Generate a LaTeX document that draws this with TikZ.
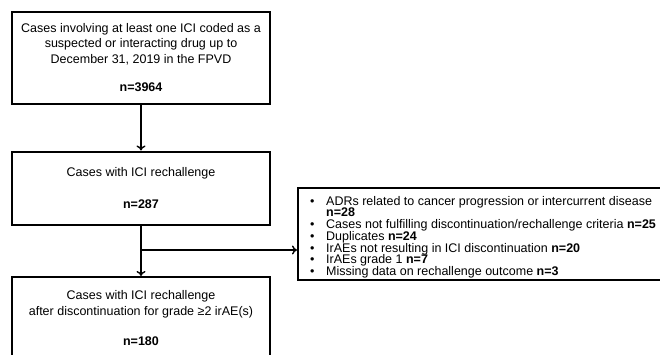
\documentclass[tikz,border=0pt]{standalone}
\usepackage{fontspec}
\setmainfont{Liberation Sans}
\usetikzlibrary{arrows.meta,calc}
\newcommand{\bul}{\makebox[16pt][l]{•}}
\newcommand{\tightlines}{\lineskiplimit -30pt\relax}
\tikzset{
  flowbox/.style={draw, line width=2pt, inner sep=0pt, align=center,
    font=\fontsize{12.5}{15.5}\selectfont},
  arr/.style={line width=2pt, -{To[length=5pt,width=9pt,line width=1.4pt]}},
  bullettext/.style={anchor=north west, inner sep=0pt, align=left,
    font=\fontsize{12.5}{11.7}\selectfont\tightlines}
}
\begin{document}
\begin{tikzpicture}[x=1pt,y=-1pt]
\useasboundingbox (0,0) rectangle (660,354);
\clip (0,0) rectangle (660,354);
\node[flowbox, minimum width=258pt, minimum height=92pt] (b1) at (141,57.5)
  {Cases involving at least one ICI coded as a\\suspected or interacting drug up to\\December 31, 2019 in the FPVD\\[12.5pt]\textbf{n=3964}};
\node[flowbox, minimum width=258pt, minimum height=73pt] (b2) at (141,188)
  {Cases with ICI rechallenge\\[16.5pt]\textbf{n=287}};
\node[flowbox, minimum width=258pt, minimum height=82pt] (b3) at (141,318)
  {Cases with ICI rechallenge\\after discontinuation for grade ≥2 irAE(s)\\[14.5pt]\textbf{n=180}};
\node[draw, line width=2pt, inner sep=0pt, minimum width=370pt, minimum height=92pt] (rb) at (483,234) {};
\node[bullettext] (rbt) at (310,196)
  {\bul ADRs related to cancer progression or intercurrent disease\\
   \hspace*{16pt}\textbf{n=28}\\
   \bul Cases not fulfilling discontinuation/rechallenge criteria \textbf{n=25}\\
   \bul Duplicates \textbf{n=24}\\
   \bul IrAEs not resulting in ICI discontinuation \textbf{n=20}\\
   \bul IrAEs grade 1 \textbf{n=7}\\
   \bul Missing data on rechallenge outcome \textbf{n=3}};
\coordinate (br) at (141,250);
\draw[arr] (b1) -- (b2);
\draw[arr] (b2) -- (b3);
\draw[arr] (br) -- (br -| rb.west);
\end{tikzpicture}
\end{document}
